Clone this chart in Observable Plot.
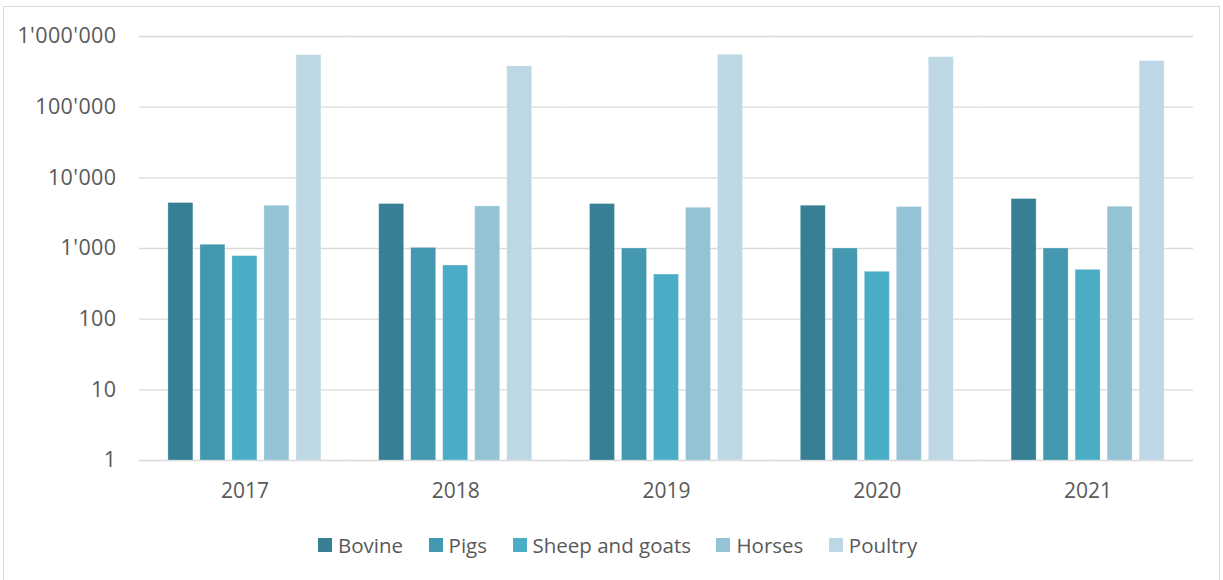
<!DOCTYPE html>
<html>
<head>
<meta charset="utf-8">
<script src="https://cdn.jsdelivr.net/npm/d3@7"></script>
<script src="https://cdn.jsdelivr.net/npm/@observablehq/plot@0.6"></script>
<style>
  html, body { margin: 0; padding: 0; background: #fff; }
  body { width: 1223px; height: 580px; position: relative; overflow: hidden; font-family: "Open Sans", sans-serif; }
  #frame { position: absolute; left: 3px; top: 6px; width: 1217px; height: 600px; border: 1.5px solid #d9d9d9; box-sizing: border-box; }
  #chart { position: absolute; left: 0; top: 0; }
  #legend { position: absolute; left: 318px; top: 531px; display: flex; align-items: center; font-size: 20.5px; color: #595959; white-space: nowrap; }
  #legend .item { display: flex; align-items: center; margin-right: 25.5px; }
  #legend .sw { width: 14px; height: 14px; margin-right: 6px; }
</style>
</head>
<body>
<div id="frame"></div>
<div id="chart"></div>
<div id="legend"></div>
<script>
const years = ["2017", "2018", "2019", "2020", "2021"];
const species = ["Bovine", "Pigs", "Sheep and goats", "Horses", "Poultry"];
const bovine  = [4400, 4260, 4260, 4030, 5010];
const pigs    = [1130, 1020, 1000, 1000, 1000];
const sheep   = [780, 574, 428, 468, 499];
const horses  = [4030, 3940, 3770, 3860, 3900];
const poultry = [545000, 377000, 552000, 511000, 449000];
const colors  = ["#377f94", "#4397ae", "#4bacc6", "#93c3d4", "#bdd8e4"];
const yTicks  = [1, 10, 100, 1000, 10000, 100000, 1000000];

const series = [bovine, pigs, sheep, horses, poultry];
const data = [];
years.forEach((yr, i) => {
  species.forEach((sp, j) => {
    data.push({year: yr, species: sp, value: series[j][i]});
  });
});

const fmt = d => d3.format(",")(d).replace(/,/g, "'");

const chart = Plot.plot({
  width: 1223,
  height: 520,
  marginLeft: 139,
  marginRight: 30,
  marginTop: 36,
  marginBottom: 60,
  style: { fontFamily: "Open Sans, sans-serif", fontSize: "21px", color: "#595959", background: "transparent" },
  fx: { domain: years, padding: 0, round: false, axis: "bottom", tickSize: 0, tickPadding: 23, label: null },
  x: { domain: species, paddingInner: 0.219, paddingOuter: 0.903, round: false, axis: null },
  y: { type: "log", domain: [1, 1000000], ticks: yTicks, tickFormat: fmt, tickSize: 0, tickPadding: 23, label: null },
  color: { domain: species, range: colors },
  marks: [
    Plot.ruleY(yTicks, { stroke: "#d9d9d9", strokeWidth: 1.4 }),
    Plot.barY(data, { fx: "year", x: "species", y1: 1, y2: "value", fill: "species", stroke: "#ffffff", strokeOpacity: 0.35, strokeWidth: 0.8 })
  ]
});
document.getElementById("chart").appendChild(chart);
d3.select(chart).selectAll('g[aria-label="y-axis tick label"] text')
  .style("font-size", "21.5px").style("letter-spacing", "0.4px");

const legend = document.getElementById("legend");
species.forEach((sp, j) => {
  const item = document.createElement("div");
  item.className = "item";
  const sw = document.createElement("div");
  sw.className = "sw";
  sw.style.background = colors[j];
  const t = document.createElement("span");
  t.textContent = sp;
  item.appendChild(sw);
  item.appendChild(t);
  legend.appendChild(item);
});
</script>
</body>
</html>
